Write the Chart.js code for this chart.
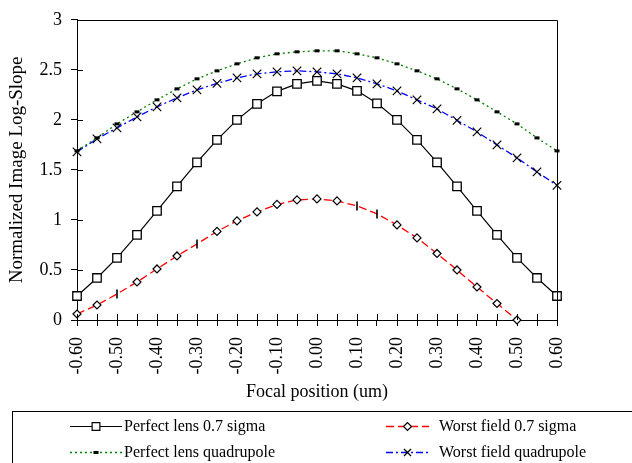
<!DOCTYPE html>
<html>
<head>
<meta charset="utf-8">
<title>Normalized Image Log-Slope</title>
<script src="https://cdn.jsdelivr.net/npm/chart.js@4.4.1/dist/chart.umd.min.js"></script>
<style>
  html, body { margin: 0; padding: 0; background: #fff; }
  #slopeChart { display: block; }
</style>
</head>
<body>
<canvas id="slopeChart" width="632" height="463"></canvas>
<script>
// focal positions (um)
const focal = [-0.60, -0.55, -0.50, -0.45, -0.40, -0.35, -0.30, -0.25, -0.20, -0.15, -0.10, -0.05,
  0.00, 0.05, 0.10, 0.15, 0.20, 0.25, 0.30, 0.35, 0.40, 0.45, 0.50, 0.55, 0.60];

const perfectSigma = [0.24, 0.42, 0.62, 0.85, 1.09, 1.335, 1.575, 1.80, 2.00, 2.16, 2.285, 2.36,
  2.39, 2.36, 2.29, 2.165, 2.00, 1.80, 1.575, 1.335, 1.09, 0.85, 0.62, 0.42, 0.24];
const worstSigma = [0.06, 0.15, 0.26, 0.38, 0.51, 0.64, 0.76, 0.885, 0.99, 1.08, 1.155, 1.20,
  1.21, 1.19, 1.14, 1.06, 0.95, 0.82, 0.665, 0.50, 0.33, 0.165, 0.0, null, null];
const perfectQuad = [1.69, 1.82, 1.96, 2.08, 2.20, 2.31, 2.41, 2.49, 2.56, 2.62, 2.66, 2.68,
  2.69, 2.69, 2.66, 2.62, 2.56, 2.49, 2.41, 2.31, 2.20, 2.08, 1.96, 1.82, 1.69];
const worstQuad = [1.68, 1.81, 1.92, 2.03, 2.13, 2.22, 2.30, 2.365, 2.42, 2.46, 2.48, 2.49,
  2.48, 2.46, 2.42, 2.36, 2.29, 2.20, 2.11, 1.995, 1.88, 1.75, 1.62, 1.48, 1.345];

const seriesNames = ["Perfect lens 0.7 sigma", "Worst field 0.7 sigma",
  "Perfect lens quadrupole", "Worst field quadrupole"];

const yTicks = [0, 0.5, 1, 1.5, 2, 2.5, 3];

// some points of the worst field 0.7 sigma curve carry a bar instead of a diamond
const barPoints = [-0.50, -0.30, 0.10, 0.15];

const serif = "'Liberation Serif', 'Times New Roman', Times, serif";
Chart.defaults.font.family = serif;
Chart.defaults.font.size = 16;
Chart.defaults.color = "#000";

function toPoints(values) {
  return focal.map((x, i) => ({ x: x, y: values[i] }));
}

const isBar = focal.map(x => barPoints.some(b => Math.abs(b - x) < 1e-9));

// draws the inward half of each tick, plus the top and right frame
const frameTicks = {
  id: "frameTicks",
  afterDraw(chart) {
    const { ctx, chartArea: a, scales } = chart;
    ctx.save();
    ctx.strokeStyle = "#000";
    ctx.lineWidth = 1;
    ctx.beginPath();
    scales.x.ticks.forEach((t, i) => {
      const px = Math.round(scales.x.getPixelForTick(i)) + 0.5;
      ctx.moveTo(px, a.bottom);
      ctx.lineTo(px, a.bottom - 6);
    });
    scales.y.ticks.forEach((t, i) => {
      const py = Math.round(scales.y.getPixelForTick(i)) + 0.5;
      ctx.moveTo(a.left, py);
      ctx.lineTo(a.left + 6, py);
    });
    ctx.moveTo(a.left, Math.round(a.top) + 0.5);
    ctx.lineTo(Math.round(a.right) + 0.5, Math.round(a.top) + 0.5);
    ctx.lineTo(Math.round(a.right) + 0.5, a.bottom);
    ctx.stroke();
    ctx.restore();
  }
};

// legend below the plot: two columns, line sample with its marker
const boxLegend = {
  id: "boxLegend",
  afterDraw(chart) {
    const ctx = chart.ctx;
    ctx.save();
    ctx.strokeStyle = "#000";
    ctx.lineWidth = 1;
    ctx.strokeRect(12.5, 411.5, 640, 80);

    const slots = [
      { x0: 70, x1: 122, tx: 124, y: 426 },
      { x0: 386, x1: 429, tx: 439, y: 426 },
      { x0: 70, x1: 122, tx: 124, y: 452 },
      { x0: 386, x1: 429, tx: 439, y: 452 }
    ];
    chart.data.datasets.forEach((ds, i) => {
      const s = slots[i];
      ctx.strokeStyle = ds.borderColor;
      ctx.lineWidth = ds.borderWidth;
      ctx.setLineDash(ds.borderDash || []);
      ctx.beginPath();
      ctx.moveTo(s.x0, s.y + 0.5);
      ctx.lineTo(s.x1, s.y + 0.5);
      ctx.stroke();
      ctx.setLineDash([]);

      ctx.fillStyle = ds.legendMarker.fill;
      ctx.strokeStyle = "#000";
      ctx.lineWidth = ds.legendMarker.borderWidth;
      Chart.helpers.drawPoint(ctx, {
        pointStyle: ds.legendMarker.style,
        radius: ds.legendMarker.radius,
        borderWidth: ds.legendMarker.borderWidth,
        rotation: 0
      }, (s.x0 + s.x1) / 2, s.y + 0.5);

      ctx.fillStyle = "#000";
      ctx.font = "16px " + serif;
      ctx.textAlign = "left";
      ctx.textBaseline = "middle";
      ctx.fillText(ds.label, s.tx, s.y + 1);
    });
    ctx.restore();
  }
};

const ctx = document.getElementById("slopeChart").getContext("2d");
const slopeChart = new Chart(ctx, {
  type: "line",
  data: {
    datasets: [
      {
        label: seriesNames[0],
        data: toPoints(perfectSigma),
        borderColor: "#000",
        borderWidth: 1.2,
        pointStyle: "rect",
        pointRadius: 6,
        pointBorderWidth: 1.3,
        pointBorderColor: "#000",
        pointBackgroundColor: "#fff",
        legendMarker: { style: "rect", radius: 5.5, borderWidth: 1.2, fill: "#fff" }
      },
      {
        label: seriesNames[1],
        data: toPoints(worstSigma),
        borderColor: "#ff0000",
        borderWidth: 1.3,
        borderDash: [8, 4],
        pointStyle: isBar.map(b => b ? "line" : "rectRot"),
        rotation: isBar.map(b => b ? 90 : 0),
        pointRadius: isBar.map(b => b ? 4.5 : 4),
        pointBorderWidth: isBar.map(b => b ? 1.6 : 1.2),
        pointBorderColor: "#000",
        pointBackgroundColor: "#fff",
        legendMarker: { style: "rectRot", radius: 4, borderWidth: 1.2, fill: "#fff" }
      },
      {
        label: seriesNames[2],
        data: toPoints(perfectQuad),
        borderColor: "#008000",
        borderWidth: 1.3,
        borderDash: [2, 3],
        pointStyle: "line",
        pointRadius: 2.5,
        pointBorderWidth: 3,
        pointBorderColor: "#000",
        pointBackgroundColor: "#000",
        legendMarker: { style: "line", radius: 2.5, borderWidth: 3, fill: "#000" }
      },
      {
        label: seriesNames[3],
        data: toPoints(worstQuad),
        borderColor: "#0000ff",
        borderWidth: 1.3,
        borderDash: [7, 3, 2, 3],
        pointStyle: "crossRot",
        pointRadius: 6,
        pointBorderWidth: 1.2,
        pointBorderColor: "#000",
        pointBackgroundColor: "#000",
        legendMarker: { style: "crossRot", radius: 5, borderWidth: 1.2, fill: "#000" }
      }
    ]
  },
  options: {
    responsive: false,
    animation: false,
    clip: false,
    layout: { padding: { left: 0, top: 15, right: 75, bottom: 59 } },
    elements: { line: { tension: 0, fill: false } },
    plugins: {
      legend: { display: false },
      tooltip: { enabled: false }
    },
    scales: {
      x: {
        type: "linear",
        min: -0.6,
        max: 0.6,
        afterFit(scale) { scale.height = 84; },
        grid: { drawOnChartArea: false, color: "#000", tickLength: 6 },
        border: { color: "#000", width: 1 },
        ticks: {
          stepSize: 0.05,
          autoSkip: false,
          maxRotation: 90,
          minRotation: 90,
          padding: 11,
          font: { size: 18 },
          callback(v) {
            const c = Math.round(v * 100);
            return c % 10 === 0 ? (c / 100).toFixed(2) : "";
          }
        },
        title: {
          display: true,
          text: "Focal position (um)",
          font: { size: 18 },
          padding: { top: 0, bottom: 1 }
        }
      },
      y: {
        min: 0,
        max: 3,
        afterFit(scale) { scale.width = 77; },
        afterBuildTicks(scale) { scale.ticks = yTicks.map(v => ({ value: v })); },
        grid: { drawOnChartArea: false, color: "#000", tickLength: 6 },
        border: { color: "#000", width: 1 },
        ticks: {
          padding: 9,
          font: { size: 18 },
          callback(v) { return String(v); }
        },
        title: {
          display: true,
          text: "Normalized Image Log-Slope",
          font: { size: 19 },
          padding: { top: 6, bottom: 0 }
        }
      }
    }
  },
  plugins: [frameTicks, boxLegend]
});
</script>
</body>
</html>
